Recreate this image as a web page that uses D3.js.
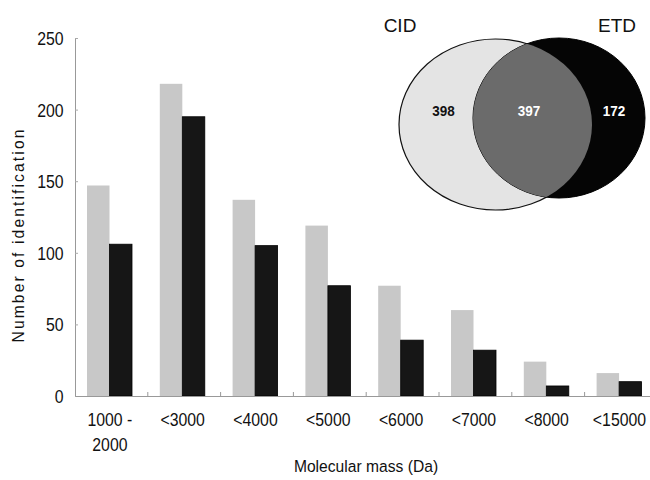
<!DOCTYPE html>
<html>
<head>
<meta charset="utf-8">
<script src="https://cdn.jsdelivr.net/npm/d3@7"></script>
<style>
  html, body { margin: 0; padding: 0; background: #fff; }
  svg { display: block; }
  text { font-family: "Liberation Sans", Arial, sans-serif; }
</style>
</head>
<body>
<svg id="chart" width="650" height="480"></svg>
<script>
// ---- data ----
const categories = ["1000 -\n2000", "<3000", "<4000", "<5000", "<6000", "<7000", "<8000", "<15000"];
const seriesNames = ["CID", "ETD"];
const cidValues = [147, 218, 137, 119, 77, 60, 24, 16];
const etdValues = [106, 195, 105, 77, 39, 32, 7, 10];
const yTicks = [0, 50, 100, 150, 200, 250];
const vennLabels = ["CID", "ETD"];
const vennCounts = [398, 397, 172]; // CID only, both, ETD only
const yTitle = "Number of identification";
const xTitle = "Molecular mass (Da)";

// ---- layout ----
const svg = d3.select("#chart");
const x0 = 75, bandW = 72.8, yBottom = 396, yTop = 38;
const narrow = 0.88;
const x = d3.scaleBand().domain(categories).range([x0, x0 + bandW * categories.length]).paddingInner(0).paddingOuter(0);
const xs = d3.scaleBand().domain(seriesNames).range([12, 57]).padding(0);
const y = d3.scaleLinear().domain([0, 250]).range([yBottom, yTop]);

const colors = { CID: "#c8c8c8", ETD: "#161616" };
const rows = categories.map((c, i) => ({ cat: c, CID: cidValues[i], ETD: etdValues[i] }));

// bars
const g = svg.append("g");
rows.forEach(r => {
  seriesNames.forEach(s => {
    g.append("rect")
      .attr("x", x(r.cat) + xs(s))
      .attr("y", y(r[s]))
      .attr("width", xs.bandwidth())
      .attr("height", y(0) - y(r[s]))
      .attr("fill", colors[s])
      .attr("stroke", s === "ETD" ? "#000" : "none")
      .attr("stroke-width", 0.8);
  });
});

// y axis
const yAxis = d3.axisLeft(y).tickValues(yTicks).tickSize(-3).tickPadding(13);
const yg = svg.append("g").attr("transform", `translate(${x0},0)`).call(yAxis);
yg.select(".domain").attr("stroke", "#999").attr("stroke-width", 1);
yg.selectAll(".tick line").attr("stroke", "#aaa");
yg.selectAll(".tick text").attr("font-size", 18).attr("fill", "#111")
  .attr("font-family", "Liberation Sans, Arial, sans-serif").attr("dy", "0.36em")
  .attr("transform", `scale(${narrow},1)`);

// x axis
const xAxis = d3.axisBottom(x).tickSize(0).tickFormat("");
const xg = svg.append("g").attr("transform", `translate(0,${yBottom})`).call(xAxis);
xg.select(".domain").attr("stroke", "#999").attr("stroke-width", 1);
categories.slice(1).forEach(c => {
  xg.append("line").attr("x1", x(c)).attr("x2", x(c)).attr("y1", 0).attr("y2", -4).attr("stroke", "#999");
});
// category labels
categories.forEach(c => {
  const lines = c.split("\n");
  const cx = x(c) + x.bandwidth() / 2 - 1.5;
  const t = svg.append("text")
    .attr("transform", `translate(${cx},426) scale(${narrow},1)`)
    .attr("text-anchor", "middle").attr("font-size", 18).attr("fill", "#111");
  lines.forEach((l, i) => t.append("tspan").attr("x", 0).attr("dy", i ? 25 : 0).text(l));
});

// axis titles
svg.append("text")
  .attr("transform", `translate(366,472) scale(0.92,1)`).attr("text-anchor", "middle")
  .attr("font-size", 17).attr("fill", "#111").text(xTitle);
svg.append("text")
  .attr("transform", "translate(24,235) rotate(-90) scale(0.92,1)").attr("text-anchor", "middle")
  .attr("font-size", 17).attr("fill", "#111").style("letter-spacing", "2.3px").text(yTitle);

// ---- venn ----
const venn = [
  { name: vennLabels[0], cx: 495.5, cy: 124.5, rx: 96.5, ry: 85.5 },
  { name: vennLabels[1], cx: 559, cy: 118, rx: 86, ry: 80 }
];
const defs = svg.append("defs");
defs.append("clipPath").attr("id", "cidClip").append("ellipse")
  .attr("cx", venn[0].cx).attr("cy", venn[0].cy).attr("rx", venn[0].rx).attr("ry", venn[0].ry);

const vg = svg.append("g");
vg.append("ellipse").attr("cx", venn[0].cx).attr("cy", venn[0].cy).attr("rx", venn[0].rx).attr("ry", venn[0].ry)
  .attr("fill", "#e4e4e4").attr("stroke", "#111").attr("stroke-width", 1.2);
vg.append("ellipse").attr("cx", venn[1].cx).attr("cy", venn[1].cy).attr("rx", venn[1].rx).attr("ry", venn[1].ry)
  .attr("fill", "#050505").attr("stroke", "#000").attr("stroke-width", 1);
vg.append("ellipse").attr("cx", venn[1].cx).attr("cy", venn[1].cy).attr("rx", venn[1].rx).attr("ry", venn[1].ry)
  .attr("clip-path", "url(#cidClip)").attr("fill", "#6b6b6b");

vg.append("text").attr("x", 400).attr("y", 32).attr("text-anchor", "middle")
  .attr("font-size", 19).attr("fill", "#111").text(venn[0].name);
vg.append("text").attr("x", 617).attr("y", 32).attr("text-anchor", "middle")
  .attr("font-size", 19).attr("fill", "#111").text(venn[1].name);
const countPos = [[443.5, "#111"], [529, "#fff"], [614, "#fff"]];
vennCounts.forEach((v, i) => {
  vg.append("text").attr("transform", `translate(${countPos[i][0]},115.5) scale(0.9,1)`)
    .attr("text-anchor", "middle").attr("font-size", 15).attr("font-weight", "bold")
    .attr("fill", countPos[i][1]).text(v);
});
</script>
</body>
</html>
